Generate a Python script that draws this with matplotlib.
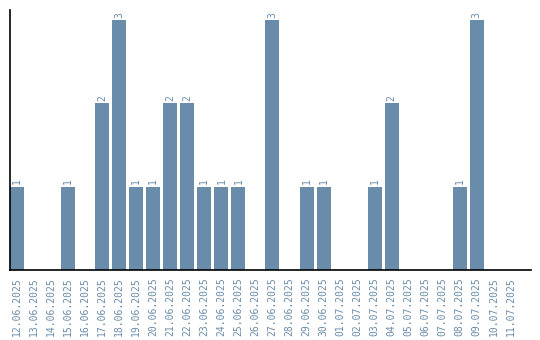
import matplotlib.pyplot as plt

dates = ['12.06.2025', '13.06.2025', '14.06.2025', '15.06.2025', '16.06.2025',
         '17.06.2025', '18.06.2025', '19.06.2025', '20.06.2025', '21.06.2025',
         '22.06.2025', '23.06.2025', '24.06.2025', '25.06.2025', '26.06.2025',
         '27.06.2025', '28.06.2025', '29.06.2025', '30.06.2025', '01.07.2025',
         '02.07.2025', '03.07.2025', '04.07.2025', '05.07.2025', '06.07.2025',
         '07.07.2025', '08.07.2025', '09.07.2025', '10.07.2025', '11.07.2025']
counts = [1, 0, 0, 1, 0, 2, 3, 1, 1, 2,
          2, 1, 1, 1, 0, 3, 0, 1, 1, 0,
          0, 1, 2, 0, 0, 0, 1, 3, 0, 0]

color = '#6a8cab'

fig = plt.figure(figsize=(5.4, 3.4), dpi=100)
ax = fig.add_axes([10 / 540, 70 / 340, 521 / 540, 260 / 340])

x = range(len(dates))
ax.bar(x, counts, width=0.82, color=color)

# value labels above non-empty bars
for i, c in enumerate(counts):
    if c > 0:
        ax.text(i, c + 0.03, str(c), rotation=90, ha='center', va='bottom',
                color=color, fontsize=7, family='DejaVu Sans Mono')

ax.set_xticks(list(x))
ax.set_xticklabels(dates, rotation=90, color=color, fontsize=7,
                   family='DejaVu Sans Mono')
ax.tick_params(axis='x', length=0, pad=5)
ax.set_yticks([])
ax.set_xlim(-0.41, 30.18)
ax.set_ylim(0, 3.12)

for side in ['top', 'right']:
    ax.spines[side].set_visible(False)
for side in ['left', 'bottom']:
    ax.spines[side].set_linewidth(1.2)

fig.savefig('out.png', dpi=100)
